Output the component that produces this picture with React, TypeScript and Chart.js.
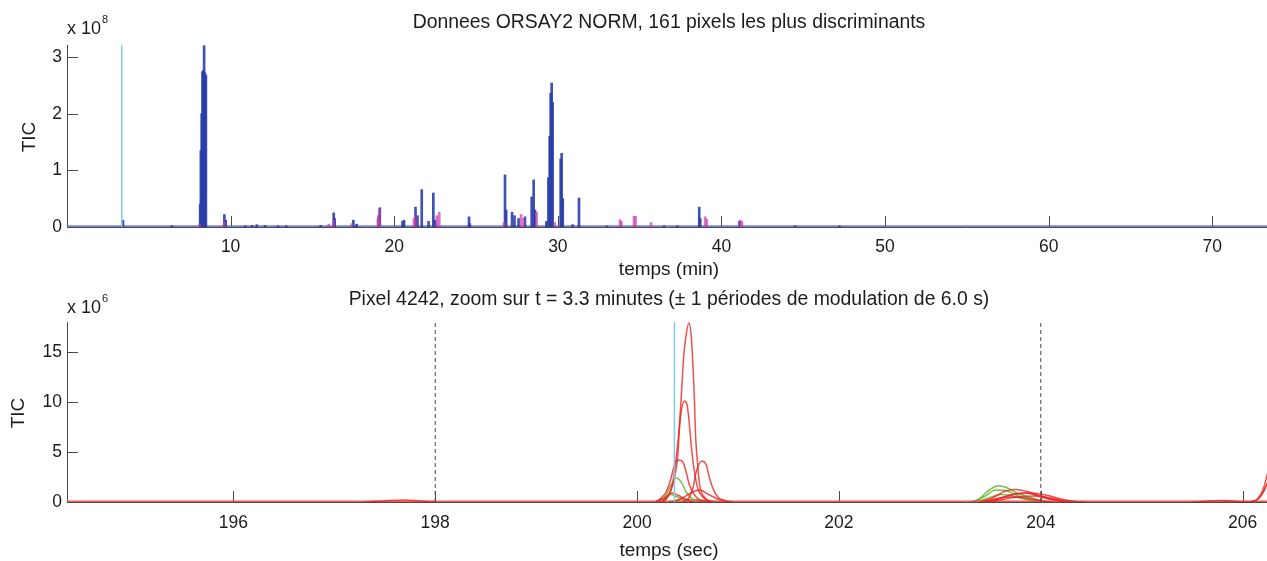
import React, { useEffect, useRef } from "react";
import { Chart, registerables } from "chart.js";

Chart.register(...registerables);

const FONT = '"Liberation Sans", Arial, Helvetica, sans-serif';
const TEXT_COLOR = "#1c1c1c";
const AXIS_COLOR = "#4a4a4a";

// ---------- Top panel ----------
const TOP_TITLE = "Donnees ORSAY2 NORM, 161 pixels les plus discriminants";
const TOP_XLABEL = "temps (min)";
const TOP_YLABEL = "TIC";
const TOP_EXPONENT = "8";
const TOP_X_MIN = 0;
const TOP_X_MAX = 73.34;
const TOP_Y_MIN = 0;
const TOP_Y_MAX = 3.212;
const TOP_X_TICKS = [10, 20, 30, 40, 50, 60, 70];
const TOP_Y_TICKS = [0, 1, 2, 3];
const TOP_MARK_T = 3.35; // selected time (min)

// blue peaks: retention time (min) and TIC (x 1e8)
const BLUE_T = [
  3.42, 6.4, 8.14, 8.18, 8.23, 8.28, 8.33, 8.38, 8.43, 8.49, 9.62, 9.7, 10.9, 11.3, 11.6, 12.1,
  12.9, 13.4, 15.5, 16.3, 16.36, 17.5, 17.7, 19.05, 19.12, 20.5, 20.6, 21.3, 21.42, 21.68,
  22.1, 22.39, 22.5, 24.57, 24.62, 26.77, 26.84, 27.2, 27.35, 27.6, 27.99, 28.4, 28.52, 28.6,
  29.3, 29.42, 29.5, 29.56, 29.62, 29.68, 30.17, 30.23, 30.3, 30.9, 31.29, 33.0, 36.5, 37.3,
  38.64, 38.7, 41.1, 44.5, 47.2,
];
const BLUE_H = [
  0.12, 0.02, 0.4, 1.35, 2.0, 2.74, 2.76, 3.2, 2.72, 2.68, 0.22, 0.12, 0.02, 0.03, 0.04, 0.03,
  0.02, 0.02, 0.03, 0.25, 0.15, 0.12, 0.05, 0.2, 0.34, 0.1, 0.12, 0.35, 0.2, 0.66,
  0.1, 0.6, 0.12, 0.18, 0.06, 0.92, 0.3, 0.26, 0.2, 0.15, 0.18, 0.53, 0.83, 0.3,
  0.1, 0.87, 1.6, 2.36, 2.54, 2.2, 1.2, 1.3, 0.5, 0.04, 0.51, 0.02, 0.02, 0.02,
  0.35, 0.15, 0.1, 0.02, 0.02,
];
// magenta bumps
const MAGENTA_T = [
  3.35, 8.1, 9.6, 16.0, 16.3, 17.4, 19.0, 19.1, 21.2, 21.3, 22.6, 22.75, 26.7, 27.75, 27.9,
  28.7, 29.8, 33.8, 33.88, 34.65, 34.75, 35.7, 39.0, 39.1, 41.15, 41.25,
];
const MAGENTA_H = [
  0.02, 0.05, 0.1, 0.05, 0.12, 0.06, 0.15, 0.32, 0.15, 0.2, 0.2, 0.26, 0.08, 0.22, 0.15,
  0.26, 0.08, 0.13, 0.1, 0.19, 0.19, 0.08, 0.18, 0.14, 0.12, 0.1,
];

// ---------- Bottom panel ----------
const BOT_TITLE = "Pixel 4242, zoom sur t = 3.3 minutes (\u00b1 1 p\u00e9riodes de modulation de 6.0 s)";
const BOT_XLABEL = "temps (sec)";
const BOT_YLABEL = "TIC";
const BOT_EXPONENT = "6";
const BOT_X_MIN = 194.352;
const BOT_X_MAX = 206.241;
const BOT_Y_MIN = 0;
const BOT_Y_MAX = 18;
const BOT_X_TICKS = [196, 198, 200, 202, 204, 206];
const BOT_Y_TICKS = [0, 5, 10, 15];
const BOT_MARK_T = 200.37; // selected time (s)
const BOT_PERIOD_LINES = [198, 204];

// red traces: [time (s), TIC (x 1e6)]
const RED_A = [[200.25, 0], [200.305, 0.5], [200.354, 2.0], [200.387, 4.4], [200.414, 7.0], [200.437, 10.4], [200.463, 14.7], [200.486, 16.7], [200.513, 17.9], [200.536, 16.7], [200.553, 13.7], [200.569, 10.0], [200.578, 7.0], [200.595, 4.4], [200.62, 1.7], [200.665, 0.5], [200.75, 0]];
const RED_B = [[200.25, 0], [200.33, 1.0], [200.37, 2.4], [200.404, 4.7], [200.42, 7.4], [200.443, 9.4], [200.47, 10.1], [200.496, 9.7], [200.519, 7.7], [200.536, 5.7], [200.563, 3.4], [200.6, 1.4], [200.652, 0.5], [200.72, 0]];
const RED_C = [[200.18, 0], [200.238, 0.4], [200.288, 1.0], [200.337, 2.4], [200.37, 3.7], [200.41, 4.2], [200.454, 4.0], [200.486, 3.0], [200.519, 1.7], [200.569, 0.7], [200.62, 0.2], [200.7, 0]];
const RED_D = [[200.45, 0], [200.52, 0.5], [200.553, 1.4], [200.586, 3.0], [200.64, 4.1], [200.685, 3.7], [200.718, 2.4], [200.75, 1.4], [200.8, 0.5], [200.87, 0.15], [200.95, 0]];
const RED_E = [[200.35, 0], [200.45, 0.4], [200.55, 1.0], [200.62, 1.2], [200.7, 0.8], [200.8, 0.3], [200.9, 0]];
const RED_F = [[200.2, 0], [200.28, 0.4], [200.34, 0.9], [200.4, 0.7], [200.48, 0.3], [200.56, 0]];
const RED_H = [[203.4, 0], [203.52, 0.4], [203.65, 1.1], [203.75, 1.25], [203.88, 1.0], [204.0, 0.6], [204.15, 0.2], [204.3, 0]];
const RED_I = [[203.45, 0], [203.6, 0.4], [203.75, 0.8], [203.9, 0.9], [204.05, 0.7], [204.2, 0.3], [204.35, 0.05], [204.45, 0]];
const RED_J = [[203.5, 0], [203.65, 0.3], [203.8, 0.55], [203.95, 0.6], [204.1, 0.4], [204.25, 0.1], [204.35, 0]];
const RED_K = [[203.4, 0], [203.55, 0.3], [203.7, 0.5], [203.85, 0.4], [204.0, 0.15], [204.1, 0]];
const RED_L = [[203.5, 0], [203.7, 0.7], [203.85, 0.9], [204.0, 0.5], [204.15, 0.15], [204.25, 0]];
const RED_M = [[206.05, 0], [206.12, 0.1], [206.17, 0.6], [206.21, 1.5], [206.25, 3.0], [206.3, 5.0]];
const RED_N = [[206.08, 0], [206.15, 0.3], [206.2, 0.9], [206.25, 2.0], [206.3, 3.5]];
const RED_O = [[197.3, 0], [197.5, 0.12], [197.7, 0.2], [197.85, 0.1], [198.0, 0]];
const RED_P = [[205.5, 0], [205.65, 0.1], [205.8, 0.15], [205.95, 0.05], [206.05, 0]];
const RED_BASE = [[BOT_X_MIN, 0], [BOT_X_MAX, 0]];

// green traces
const GREEN_A = [[200.18, 0], [200.24, 0.25], [200.288, 0.7], [200.337, 1.7], [200.39, 2.4], [200.437, 2.0], [200.486, 1.0], [200.536, 0.4], [200.6, 0.1], [200.68, 0]];
const GREEN_B = [[200.18, 0], [200.26, 0.4], [200.33, 0.75], [200.4, 0.5], [200.48, 0.2], [200.56, 0]];
const GREEN_C = [[200.3, 0], [200.4, 0.2], [200.55, 0.25], [200.7, 0.15], [200.85, 0]];
const GREEN_D = [[203.3, 0], [203.38, 0.2], [203.45, 0.87], [203.52, 1.4], [203.58, 1.63], [203.66, 1.45], [203.745, 1.0], [203.88, 0.5], [204.01, 0.1], [204.1, 0]];
const GREEN_E = [[203.32, 0], [203.45, 0.6], [203.55, 1.2], [203.65, 1.15], [203.78, 0.6], [203.92, 0.2], [204.05, 0]];
const GREEN_F = [[203.35, 0], [203.48, 0.4], [203.6, 0.75], [203.72, 0.6], [203.85, 0.25], [204.0, 0]];
const GREEN_G = [[206.08, 0], [206.14, 0.2], [206.19, 0.8], [206.24, 1.8], [206.3, 3.0]];
const GREEN_H = [[205.6, 0], [205.75, 0.1], [205.9, 0.05], [206.0, 0]];

const RED_TRACES = [RED_A, RED_B, RED_C, RED_D, RED_E, RED_F, RED_H, RED_I, RED_J, RED_K, RED_L, RED_M, RED_N, RED_O, RED_P];
const GREEN_TRACES = [GREEN_A, GREEN_B, GREEN_C, GREEN_D, GREEN_E, GREEN_F, GREEN_G, GREEN_H];

// ---------- plugins ----------
const inwardTicks = {
  id: "inwardTicks",
  beforeDatasetsDraw(chart: any, _args: any, opts: any) {
    const { ctx, chartArea, scales } = chart;
    ctx.save();
    ctx.strokeStyle = AXIS_COLOR;
    ctx.lineWidth = 1;
    ctx.beginPath();
    for (const v of opts.xTicks) {
      const px = Math.round(scales.x.getPixelForValue(v)) + 0.5;
      ctx.moveTo(px, chartArea.bottom);
      ctx.lineTo(px, chartArea.bottom - 11);
    }
    for (const v of opts.yTicks) {
      const py = Math.round(scales.y.getPixelForValue(v)) + 0.5;
      ctx.moveTo(chartArea.left, py);
      ctx.lineTo(chartArea.left + 11, py);
    }
    ctx.stroke();
    ctx.restore();
  },
};

const axisText = {
  id: "axisText",
  afterDraw(chart: any, _args: any, opts: any) {
    const { ctx, chartArea } = chart;
    const cx = (chartArea.left + chartArea.right) / 2;
    ctx.save();
    ctx.fillStyle = TEXT_COLOR;
    ctx.textBaseline = "middle";
    // title
    ctx.font = `19.4px ${FONT}`;
    ctx.textAlign = "center";
    ctx.fillText(opts.title, cx + 2, opts.titleY);
    // x label
    ctx.font = `19px ${FONT}`;
    ctx.fillText(opts.xlabel, cx + 2, opts.xlabelY);
    // y label
    ctx.save();
    ctx.translate(opts.ylabelX, opts.ylabelY);
    ctx.rotate(-Math.PI / 2);
    ctx.fillText(opts.ylabel, 0, 0);
    ctx.restore();
    // exponent
    ctx.textAlign = "left";
    ctx.font = `18px ${FONT}`;
    const base = "x 10";
    ctx.fillText(base, chartArea.left, opts.expY);
    const w = ctx.measureText(base).width;
    ctx.font = `11px ${FONT}`;
    ctx.fillText(opts.exponent, chartArea.left + w + 1, opts.expY - 9);
    ctx.restore();
  },
};

function scaleOpts(min: number, max: number, ticks: number[], pad: number, size: { w?: number; h?: number }) {
  return {
    type: "linear",
    min,
    max,
    offset: false,
    grid: { display: false, drawTicks: false },
    border: { display: true, color: AXIS_COLOR, width: 1 },
    ticks: {
      font: { family: FONT, size: 17.5 },
      color: TEXT_COLOR,
      padding: pad,
      maxRotation: 0,
      autoSkip: false,
    },
    afterBuildTicks: (s: any) => {
      s.ticks = ticks.map((v) => ({ value: v }));
    },
    afterFit: (s: any) => {
      if (size.w !== undefined) s.width = size.w;
      if (size.h !== undefined) s.height = size.h;
      s.paddingLeft = 0;
      s.paddingRight = 0;
      s.paddingTop = 0;
      s.paddingBottom = 0;
    },
  };
}

const pts = (arr: number[][]) => arr.map(([x, y]) => ({ x, y }));

function makeTop(canvas: HTMLCanvasElement) {
  return new Chart(canvas, {
    type: "line",
    data: {
      datasets: [
        {
          type: "line",
          data: [{ x: TOP_MARK_T, y: TOP_Y_MIN }, { x: TOP_MARK_T, y: TOP_Y_MAX }],
          borderColor: "rgb(125,205,230)",
          borderWidth: 1.5,
          pointRadius: 0,
          order: 0,
        } as any,
        {
          type: "bar",
          data: MAGENTA_T.map((t, i) => ({ x: t, y: MAGENTA_H[i] })),
          backgroundColor: "rgba(200,60,170,0.7)",
          barThickness: 2,
          grouped: false,
          borderWidth: 0,
          order: 1,
        },
        {
          type: "bar",
          data: BLUE_T.map((t, i) => ({ x: t, y: BLUE_H[i] })),
          backgroundColor: "rgba(42,62,170,0.9)",
          barThickness: 2,
          grouped: false,
          borderWidth: 0,
          order: 2,
        },
        {
          type: "line",
          data: [{ x: TOP_X_MIN, y: 0.004 }, { x: TOP_X_MAX, y: 0.004 }],
          borderColor: "rgba(95,110,210,0.85)",
          borderWidth: 3,
          pointRadius: 0,
          order: 3,
        },
      ],
    } as any,
    options: {
      animation: false,
      responsive: false,
      events: [],
      layout: { padding: { top: 45, left: 0, right: 0, bottom: 0 } },
      plugins: {
        legend: { display: false },
        tooltip: { enabled: false },
        inwardTicks: { xTicks: TOP_X_TICKS, yTicks: TOP_Y_TICKS },
        axisText: {
          title: TOP_TITLE,
          titleY: 23,
          xlabel: TOP_XLABEL,
          xlabelY: 270,
          ylabel: TOP_YLABEL,
          ylabelX: 30,
          ylabelY: 137,
          exponent: TOP_EXPONENT,
          expY: 29,
        },
      },
      scales: {
        x: scaleOpts(TOP_X_MIN, TOP_X_MAX, TOP_X_TICKS, 10, { h: 53 }),
        y: scaleOpts(TOP_Y_MIN, TOP_Y_MAX, TOP_Y_TICKS, 5, { w: 67 }),
      },
    } as any,
    plugins: [inwardTicks, axisText],
  });
}

function makeBottom(canvas: HTMLCanvasElement) {
  const datasets: any[] = [];
  BOT_PERIOD_LINES.forEach((t) =>
    datasets.push({
      type: "line",
      data: [{ x: t, y: BOT_Y_MIN }, { x: t, y: BOT_Y_MAX }],
      borderColor: "#444",
      borderWidth: 1,
      borderDash: [4, 3],
      pointRadius: 0,
      order: 0,
    })
  );
  datasets.push({
    type: "line",
    data: [{ x: BOT_MARK_T, y: BOT_Y_MIN }, { x: BOT_MARK_T, y: BOT_Y_MAX }],
    borderColor: "rgb(125,205,230)",
    borderWidth: 1.5,
    pointRadius: 0,
    order: 1,
  });
  RED_TRACES.forEach((tr) =>
    datasets.push({
      type: "line",
      data: pts(tr),
      borderColor: "rgba(238,35,35,0.8)",
      borderWidth: 1.5,
      pointRadius: 0,
      cubicInterpolationMode: "monotone",
      order: 2,
    })
  );
  datasets.push({
    type: "line",
    data: pts(RED_BASE),
    borderColor: "rgba(242,70,70,0.9)",
    borderWidth: 3,
    pointRadius: 0,
    order: 3,
  });
  GREEN_TRACES.forEach((tr) =>
    datasets.push({
      type: "line",
      data: pts(tr),
      borderColor: "rgba(95,180,45,0.85)",
      borderWidth: 1.5,
      pointRadius: 0,
      cubicInterpolationMode: "monotone",
      order: 4,
    })
  );
  return new Chart(canvas, {
    type: "line",
    data: { datasets },
    options: {
      animation: false,
      responsive: false,
      events: [],
      layout: { padding: { top: 42, left: 0, right: 0, bottom: 0 } },
      plugins: {
        legend: { display: false },
        tooltip: { enabled: false },
        inwardTicks: { xTicks: BOT_X_TICKS, yTicks: BOT_Y_TICKS },
        axisText: {
          title: BOT_TITLE,
          titleY: 20,
          xlabel: BOT_XLABEL,
          xlabelY: 271,
          ylabel: BOT_YLABEL,
          ylabelX: 19,
          ylabelY: 133,
          exponent: BOT_EXPONENT,
          expY: 28,
        },
      },
      scales: {
        x: scaleOpts(BOT_X_MIN, BOT_X_MAX, BOT_X_TICKS, 11, { h: 59 }),
        y: scaleOpts(BOT_Y_MIN, BOT_Y_MAX, BOT_Y_TICKS, 5, { w: 67 }),
      },
    } as any,
    plugins: [inwardTicks, axisText],
  });
}

export default function App() {
  const topRef = useRef<HTMLCanvasElement>(null);
  const botRef = useRef<HTMLCanvasElement>(null);
  useEffect(() => {
    const a = makeTop(topRef.current!);
    const b = makeBottom(botRef.current!);
    return () => {
      a.destroy();
      b.destroy();
    };
  }, []);
  return (
    <div style={{ position: "fixed", left: 0, top: 0, width: 1267, height: 561, background: "#fff" }}>
      <canvas ref={topRef} width={1267} height={280} style={{ position: "absolute", left: 0, top: 0, display: "block" }} />
      <canvas ref={botRef} width={1267} height={281} style={{ position: "absolute", left: 0, top: 280, display: "block" }} />
    </div>
  );
}
